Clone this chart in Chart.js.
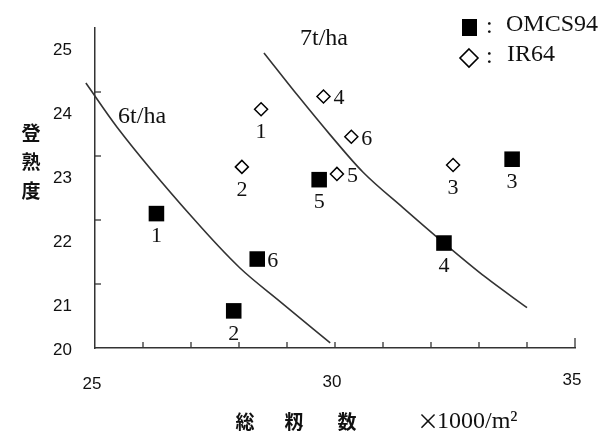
<!DOCTYPE html>
<html><head><meta charset="utf-8">
<script src="https://cdn.jsdelivr.net/npm/chart.js@4/dist/chart.umd.min.js"></script>
<style>html,body{margin:0;padding:0;background:#fff;}</style>
</head><body>
<canvas id="c" width="599" height="437"></canvas>
<script>
// ---- data ----
const omcsX = [26.28, 27.89, 33.69, 32.27, 29.67, 28.38];
const omcsY = [22.10, 20.58, 22.95, 21.64, 22.63, 21.39];
const omcsLabels = ['1', '2', '3', '4', '5', '6'];
const ir64X = [28.46, 28.06, 32.46, 29.76, 30.04, 30.34];
const ir64Y = [23.73, 22.83, 22.86, 23.93, 22.72, 23.30];
const ir64Labels = ['1', '2', '3', '4', '5', '6'];
const iso6X = [24.81, 25.46, 27.04, 28.02, 28.85, 29.90];
const iso6Y = [24.14, 23.45, 22.03, 21.25, 20.73, 20.08];
const iso7X = [28.52, 29.25, 29.90, 30.58, 31.42, 32.27, 33.13, 34.00];
const iso7Y = [24.61, 23.92, 23.33, 22.75, 22.19, 21.64, 21.11, 20.63];
const isoNames = ['6t/ha', '7t/ha'];
const isoLabelAt = [[25.98, 23.62], [29.77, 24.84]];
const seriesNames = ['OMCS94', 'IR64'];
const xTickValues = [25, 30, 35];
const xTickLabels = ['25', '30', '35'];
const yTickValues = [20, 21, 22, 23, 24, 25];
const yTickLabels = ['20', '21', '22', '23', '24', '25'];
const yTitle = ['登', '熟', '度'];
const xTitle = ['総', '籾', '数'];
const xUnitSign = '×';
const xUnit = '1000/m²';

const pts = (xs, ys) => xs.map((v, i) => ({x: v, y: ys[i]}));
const SERIF = '"Liberation Serif", "Times New Roman", serif';
const SANS = '"Liberation Sans", Arial, sans-serif';
const CJK = '"Noto Sans CJK JP", "Noto Sans CJK SC", sans-serif';

// label placement style for point numbers: 'b' below, 'r' right
const omcsSide = ['b', 'b', 'b', 'b', 'b', 'r'];
const irSide = ['b', 'b', 'b', 'r', 'r', 'r'];

const decor = {
  id: 'decor',
  afterDraw(chart) {
    const {ctx, chartArea: ca, scales: {x, y}} = chart;
    ctx.save();
    ctx.strokeStyle = '#333';
    ctx.lineWidth = 1.3;
    // inward ticks
    for (let v = 21; v <= 24; v++) {
      const py = y.getPixelForValue(v);
      ctx.beginPath(); ctx.moveTo(ca.left, py); ctx.lineTo(ca.left + 6, py); ctx.stroke();
    }
    for (let v = 26; v <= 35; v++) {
      const px = x.getPixelForValue(v);
      ctx.beginPath(); ctx.moveTo(px, ca.bottom); ctx.lineTo(px, ca.bottom - (v === 35 ? 10 : 6)); ctx.stroke();
    }
    // tick labels
    ctx.fillStyle = '#111';
    ctx.font = '17px ' + SANS;
    ctx.textAlign = 'right'; ctx.textBaseline = 'middle';
    yTickValues.forEach((v, i) => {
      const shift = v === 20 ? 2 : 22;
      ctx.fillText(yTickLabels[i], 72, y.getPixelForValue(v) + shift);
    });
    ctx.textAlign = 'center';
    xTickValues.forEach((v, i) => {
      ctx.fillText(xTickLabels[i], x.getPixelForValue(v) - 3, 384 - i * 2);
    });
    // axis titles
    ctx.font = 'bold 19px ' + CJK;
    yTitle.forEach((ch, i) => ctx.fillText(ch, 31, 133 + i * 29));
    const xt = [245, 294, 347];
    xTitle.forEach((ch, i) => ctx.fillText(ch, xt[i], 422));
    ctx.font = '22px ' + CJK;
    ctx.fillText(xUnitSign, 428, 421);
    ctx.font = '24px ' + SERIF;
    ctx.textAlign = 'left';
    ctx.fillText(xUnit, 437, 422);
    // iso-line labels
    ctx.textAlign = 'center';
    isoNames.forEach((n, i) => {
      ctx.fillText(n, x.getPixelForValue(isoLabelAt[i][0]), y.getPixelForValue(isoLabelAt[i][1]));
    });
    // point numbers
    ctx.font = '22px ' + SERIF;
    const lab = (xs, ys, ls, sides) => xs.forEach((v, i) => {
      const px = x.getPixelForValue(v), py = y.getPixelForValue(ys[i]);
      if (sides[i] === 'b') { ctx.textAlign = 'center'; ctx.fillText(ls[i], px, py + 23); }
      else { ctx.textAlign = 'left'; ctx.fillText(ls[i], px + 10, py + 2); }
    });
    lab(omcsX, omcsY, omcsLabels, omcsSide);
    lab(ir64X, ir64Y, ir64Labels, irSide);
    // legend
    ctx.fillStyle = '#000';
    ctx.fillRect(462, 19, 15, 17);
    ctx.beginPath();
    ctx.moveTo(469, 49); ctx.lineTo(478, 58); ctx.lineTo(469, 67); ctx.lineTo(460, 58); ctx.closePath();
    ctx.lineWidth = 1.6; ctx.strokeStyle = '#000'; ctx.stroke();
    ctx.font = '24px ' + SERIF;
    ctx.textAlign = 'left';
    ctx.fillStyle = '#111';
    ctx.fillText(':', 486, 27);
    ctx.fillText(':', 486, 57);
    ctx.fillText(seriesNames[0], 506, 25);
    ctx.fillText(seriesNames[1], 507, 55);
    ctx.restore();
  }
};

new Chart(document.getElementById('c'), {
  type: 'scatter',
  data: {
    datasets: [
      {label: seriesNames[0], data: pts(omcsX, omcsY), pointStyle: 'rect', pointRadius: 11,
       backgroundColor: '#000', borderWidth: 0},
      {label: seriesNames[1], data: pts(ir64X, ir64Y), pointStyle: 'rectRot', pointRadius: 6.5,
       backgroundColor: '#fff', borderColor: '#000', borderWidth: 1.5},
      {label: isoNames[0], data: pts(iso6X, iso6Y), showLine: true, pointRadius: 0,
       borderColor: '#333', borderWidth: 1.6, cubicInterpolationMode: 'monotone', clip: false},
      {label: isoNames[1], data: pts(iso7X, iso7Y), showLine: true, pointRadius: 0,
       borderColor: '#333', borderWidth: 1.6, cubicInterpolationMode: 'monotone', clip: false}
    ]
  },
  options: {
    responsive: false,
    animation: false,
    devicePixelRatio: 1,
    layout: {padding: {top: 28, right: 24, left: 0, bottom: 0}},
    plugins: {legend: {display: false}, tooltip: {enabled: false}},
    scales: {
      x: {type: 'linear', min: 25, max: 35,
          grid: {display: false}, ticks: {display: false},
          border: {display: true, color: '#333', width: 1.5},
          afterFit: s => { s.height = 89; }},
      y: {type: 'linear', min: 20, max: 25,
          grid: {display: false}, ticks: {display: false},
          border: {display: true, color: '#333', width: 1.5},
          afterFit: s => { s.width = 95; }}
    }
  },
  plugins: [decor]
});
</script>
</body></html>
